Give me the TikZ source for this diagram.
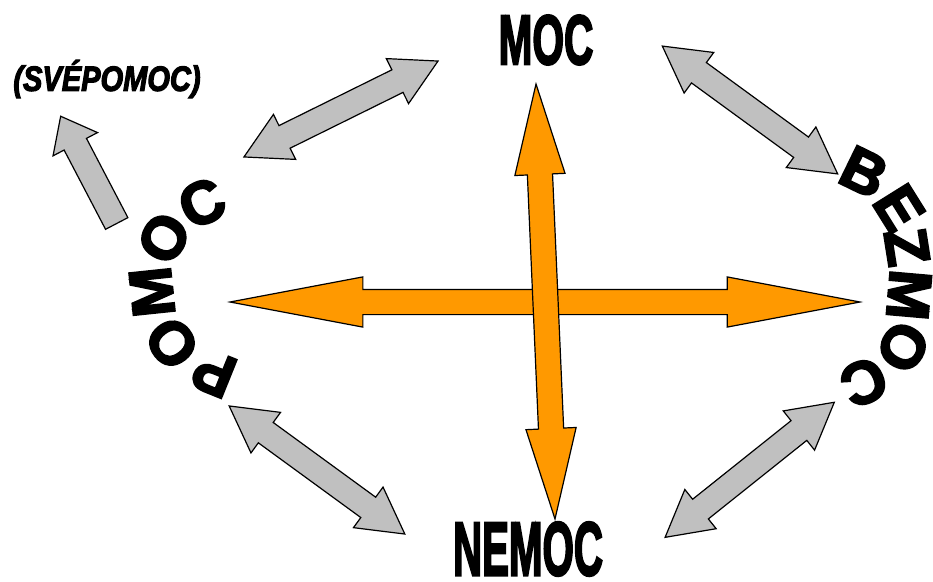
\documentclass[tikz,border=0pt]{standalone}
\usepackage{fontspec}
\usepackage{xcolor}
\usetikzlibrary{shapes.arrows}
\newfontfamily\heavyfont{Liberation Sans}[FakeBold=3.5]
\definecolor{arroworange}{HTML}{FF9900}
\definecolor{arrowgray}{HTML}{C0C0C0}

\begin{document}
\begin{tikzpicture}[x=1pt, y=-1pt,
  grayarrow/.style={double arrow, draw=black, fill=arrowgray, line width=1.2pt,
    inner xsep=0pt, inner ysep=12pt, double arrow head extend=12.5pt, double arrow tip angle=58},
  orangearrow/.style={double arrow, draw=black, fill=arroworange, line width=1.2pt,
    inner xsep=0pt, inner ysep=12pt, double arrow head extend=12.5pt},
  arcletter/.style={inner sep=0pt, font=\heavyfont\bfseries\fontsize{60}{60}\selectfont}]
\useasboundingbox (0,0) rectangle (933,581);

% Gray arrows
\node[grayarrow, minimum height=216.5pt, rotate=26.3] (pomoc-moc) at (341,109) {};
\node[grayarrow, minimum height=217pt, rotate=-36.1] (moc-bezmoc) at (750,110) {};
\node[grayarrow, minimum height=217.4pt, rotate=-36.1] (pomoc-nemoc) at (317,470) {};
\node[grayarrow, minimum height=216.5pt, rotate=38.6] (nemoc-bezmoc) at (749.7,469.8) {};
\node[single arrow, draw=black, fill=arrowgray, line width=1.2pt, inner xsep=0pt, inner ysep=12pt,
  single arrow head extend=12.5pt, single arrow tip angle=77, minimum height=121pt,
  anchor=tail, rotate=117.6] (pomoc-svepomoc) at (117,224) {};

% Orange cross
\node[orangearrow, minimum height=630pt, double arrow tip angle=21.4] (horiz) at (545,302) {};
\node[orangearrow, minimum height=435.4pt, double arrow tip angle=31, rotate=-87.5] (vert) at (545.5,301.5) {};

% Words
\node[inner sep=0pt, xscale=0.58, font=\heavyfont\bfseries\fontsize{70}{70}\selectfont] (moc) at (546,40) {MOC};
\node[inner sep=0pt, xscale=0.53, font=\heavyfont\bfseries\fontsize{76}{76}\selectfont] (nemoc) at (528,549) {NEMOC};
\node[inner sep=0pt, xscale=0.83, font=\heavyfont\bfseries\itshape\fontsize{35}{35}\selectfont] (svepomoc) at (107,79) {(SVÉPOMOC)};

% Letters on the arcs
\foreach \ch/\px/\py/\ang [count=\i] in {P/214/373/158, O/172/343/128, M/152/292/96, O/164/238/60, C/202/203/25}
  \node[arcletter, rotate=\ang] (pomoc\i) at (\px,\py) {\ch};
\foreach \ch/\px/\py/\ang [count=\i] in {B/864/172/-26, E/899/208/-58, Z/907/247/-81, M/909/295/-95, O/903/347/-120, C/864/382/-156}
  \node[arcletter, rotate=\ang] (bezmoc\i) at (\px,\py) {\ch};
\end{tikzpicture}
\end{document}
